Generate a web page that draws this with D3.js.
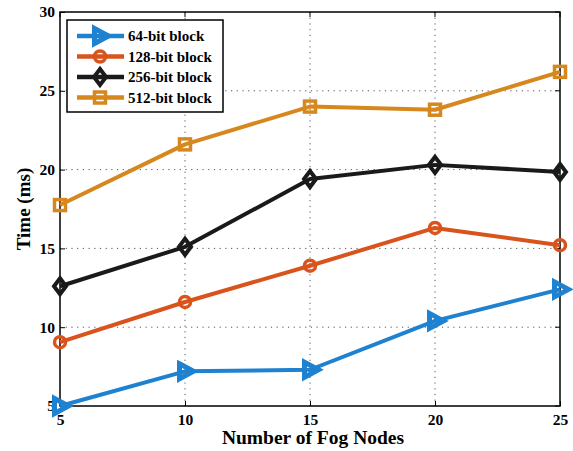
<!DOCTYPE html>
<html>
<head>
<meta charset="utf-8">
<script src="https://cdn.jsdelivr.net/npm/d3@7"></script>
<style>
  html, body { margin: 0; padding: 0; background: #fff; }
  svg text { font-family: "Liberation Serif", "Times New Roman", serif; font-weight: bold; fill: #000; }
</style>
</head>
<body>
<svg id="chart" width="573" height="451"></svg>
<script>
// Fog node counts on the x axis
const fogNodes = [5, 10, 15, 20, 25];

// Processing time (ms) for each block size
const time64  = [5.0, 7.2, 7.3, 10.4, 12.4];
const time128 = [9.05, 11.6, 13.9, 16.3, 15.2];
const time256 = [12.6, 15.1, 19.4, 20.3, 19.85];
const time512 = [17.75, 21.6, 24.0, 23.8, 26.2];

const seriesNames = ["64-bit block", "128-bit block", "256-bit block", "512-bit block"];
const seriesColors = ["#1f82d0", "#d9531c", "#1a1a1a", "#d6881e"];
const seriesMarkers = ["triangle", "circle", "diamond", "square"];

const xTicks = [5, 10, 15, 20, 25];
const yTicks = [5, 10, 15, 20, 25, 30];

const svg = d3.select("#chart");
const plotLeft = 60, plotRight = 560, plotTop = 12, plotBottom = 406;

const x = d3.scaleLinear().domain([5, 25]).range([plotLeft, plotRight]);
const y = d3.scaleLinear().domain([5, 30]).range([plotBottom, plotTop]);

// dotted grid
const grid = svg.append("g");
xTicks.slice(1, -1).forEach(t => {
  grid.append("line").attr("x1", x(t)).attr("x2", x(t)).attr("y1", plotTop).attr("y2", plotBottom)
    .attr("stroke", "#555").attr("stroke-width", 1).attr("stroke-dasharray", "1.2,4.5");
});
yTicks.slice(1, -1).forEach(t => {
  grid.append("line").attr("x1", plotLeft).attr("x2", plotRight).attr("y1", y(t)).attr("y2", y(t))
    .attr("stroke", "#555").attr("stroke-width", 1).attr("stroke-dasharray", "1.2,4.5");
});

// axes with inward ticks
const xAxis = svg.append("g").attr("transform", `translate(0,${plotBottom})`)
  .call(d3.axisBottom(x).tickValues(xTicks).tickSize(-5).tickPadding(8).tickFormat(d3.format("d")));
const yAxis = svg.append("g").attr("transform", `translate(${plotLeft},0)`)
  .call(d3.axisLeft(y).tickValues(yTicks).tickSize(-5).tickPadding(5).tickFormat(d3.format("d")));
[xAxis, yAxis].forEach(a => {
  a.attr("font-family", null).attr("font-size", null);
  a.select(".domain").remove();
  a.selectAll(".tick line").attr("stroke", "#000").attr("stroke-width", 1);
  a.selectAll(".tick text").attr("fill", "#000")
    .style("font-family", "'Liberation Serif', serif").style("font-weight", "bold").style("font-size", "15.5px");
});
// mirrored ticks on top and right
xTicks.forEach(t => svg.append("line").attr("x1", x(t)).attr("x2", x(t)).attr("y1", plotTop).attr("y2", plotTop + 5).attr("stroke", "#000"));
yTicks.forEach(t => svg.append("line").attr("x1", plotRight).attr("x2", plotRight - 5).attr("y1", y(t)).attr("y2", y(t)).attr("stroke", "#000"));

// plot frame
svg.append("rect").attr("x", plotLeft).attr("y", plotTop).attr("width", plotRight - plotLeft).attr("height", plotBottom - plotTop)
  .attr("fill", "none").attr("stroke", "#000").attr("stroke-width", 1.5);

function drawMarker(g, type, cx, cy, color) {
  if (type === "triangle") {
    g.append("path").attr("d", `M${cx - 5.5},${cy - 7.5} L${cx + 8.5},${cy} L${cx - 5.5},${cy + 7.5} Z`)
      .attr("fill", "none").attr("stroke", color).attr("stroke-width", 5).attr("stroke-linejoin", "miter");
  } else if (type === "circle") {
    g.append("circle").attr("cx", cx).attr("cy", cy).attr("r", 5.5)
      .attr("fill", "none").attr("stroke", color).attr("stroke-width", 3.5);
  } else if (type === "diamond") {
    g.append("path").attr("d", `M${cx},${cy - 8} L${cx + 6},${cy} L${cx},${cy + 8} L${cx - 6},${cy} Z`)
      .attr("fill", "none").attr("stroke", color).attr("stroke-width", 4);
  } else {
    g.append("rect").attr("x", cx - 5.5).attr("y", cy - 5.5).attr("width", 11).attr("height", 11)
      .attr("fill", "none").attr("stroke", color).attr("stroke-width", 3.5);
  }
}

const allSeries = [time64, time128, time256, time512];
const line = d3.line().x((d, i) => x(fogNodes[i])).y(d => y(d));

allSeries.forEach((vals, s) => {
  const g = svg.append("g");
  g.append("path").datum(vals).attr("d", line).attr("fill", "none")
    .attr("stroke", seriesColors[s]).attr("stroke-width", 4).attr("stroke-linejoin", "round");
  vals.forEach((v, i) => drawMarker(g, seriesMarkers[s], x(fogNodes[i]), y(v), seriesColors[s]));
});

// legend
const lg = svg.append("g");
lg.append("rect").attr("x", 67).attr("y", 20).attr("width", 156).attr("height", 92)
  .attr("fill", "#fff").attr("stroke", "#000").attr("stroke-width", 1.5);
seriesNames.forEach((name, s) => {
  const ry = 36 + s * 20.5;
  lg.append("line").attr("x1", 77).attr("x2", 124).attr("y1", ry).attr("y2", ry)
    .attr("stroke", seriesColors[s]).attr("stroke-width", 4.5);
  drawMarker(lg, seriesMarkers[s], 100, ry, seriesColors[s]);
  lg.append("text").attr("x", 128).attr("y", ry + 5).attr("font-size", 15).text(name);
});

// axis titles
svg.append("text").attr("x", (plotLeft + plotRight) / 2 + 3).attr("y", 444).attr("text-anchor", "middle")
  .attr("font-size", 19.5).text("Number of Fog Nodes");
svg.append("text").attr("transform", `translate(30,${(plotTop + plotBottom) / 2}) rotate(-90)`)
  .attr("text-anchor", "middle").attr("font-size", 19).text("Time (ms)");
</script>
</body>
</html>
